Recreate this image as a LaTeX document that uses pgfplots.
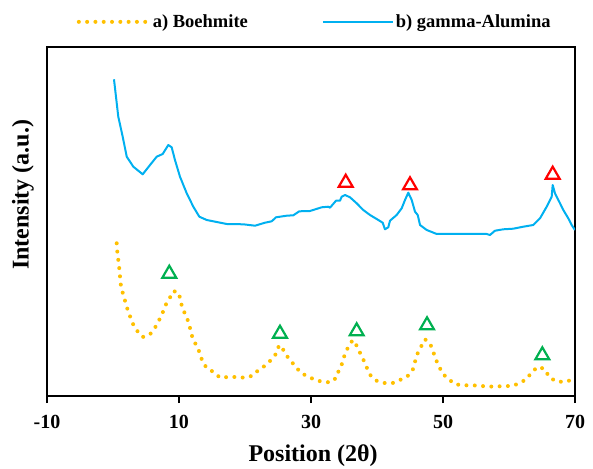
\documentclass[border=0pt]{standalone}
\usepackage{pgfplots}
\pgfplotsset{compat=1.18}
\usepackage{fontspec}
\setmainfont{Liberation Serif}
\definecolor{cblue}{HTML}{00B0F0}
\definecolor{corange}{HTML}{FFC000}
\definecolor{cgreen}{HTML}{00B050}
\definecolor{cred}{HTML}{FF0000}
\begin{document}
\begin{tikzpicture}
\begin{axis}[
  at={(0,0)}, anchor=south west,
  width=528pt, height=349pt, scale only axis,
  xmin=-10, xmax=70, ymin=0, ymax=349,
  xtick={-10,10,30,50,70},
  xticklabels={{-10},{10},{30},{50},{70}},
  ytick=\empty,
  xtick pos=bottom,
  tick align=outside,
  major tick length=7pt,
  tick style={line width=1.3pt, black},
  axis line style={line width=1.5pt, black},
  xticklabel style={font=\fontsize{20}{22}\selectfont\bfseries, yshift=-9pt},
  xlabel={Position (2θ)},
  ylabel={Intensity (a.u.)},
  xlabel style={font=\fontsize{24}{26}\selectfont\bfseries, at={(axis description cs:0.504,-0.172)}, anchor=center},
  ylabel style={font=\fontsize{24}{26}\selectfont\bfseries, at={(axis description cs:-0.0455,0.576)}, anchor=center},
  legend columns=2,
  legend style={draw=none, fill=none, font=\fontsize{18.5}{20}\selectfont\bfseries,
    at={(axis description cs:0.507,1.072)}, anchor=center,
    /tikz/every even column/.append style={column sep=72pt}},
  legend cell align=left,
  legend image code/.code={\draw[#1] (0pt,0pt) -- (70pt,0pt);},
]
\addplot[corange, line width=4pt, line cap=round, dash pattern=on 0pt off 8.3pt] coordinates {
(0.56,152.7)(0.65,144.3)(0.80,136)(0.95,127.7)(1.17,111.7)(1.47,103.3)(1.82,95.3)(2.17,87.3)(2.58,79.7)(3.03,72)(3.68,65)(4.50,59)(5.56,61.3)(6.32,67.7)(6.92,75)(7.47,82.3)(7.88,90)(8.53,97)(9.09,104.7)(9.80,104.3)(10.26,96.7)(10.45,88.3)(11.02,81)(11.47,73.3)(11.77,65.3)(12.08,57.3)(12.68,50)(13.18,42.7)(13.53,34.7)(14.20,28)(15.30,23.7)(16.21,18.3)(17.47,19)(18.74,19)(19.95,18.3)(21.17,20.3)(22.08,26.3)(23.14,30.7)(23.98,36.3)(24.80,43)(25.15,50.7)(25.56,49.3)(26.11,42)(26.86,35.7)(27.68,29.3)(28.44,23.3)(29.55,19.3)(30.71,16)(31.86,14)(33.03,13.7)(33.94,19)(34.24,26.7)(34.85,34)(35.11,42)(35.65,49)(36.32,56)(36.92,50.3)(37.42,43.3)(37.98,35.7)(38.48,28)(39.05,20.3)(40.00,15)(41.17,13)(42.38,13)(43.48,16)(44.65,20)(45.41,26)(45.76,34.3)(46.11,42)(46.67,49.3)(47.27,56.7)(48.03,52.7)(48.48,45)(48.89,37)(49.39,29.7)(49.95,22.3)(50.86,16.7)(51.86,11.7)(53.08,10.7)(54.35,10.7)(55.56,10.3)(56.77,9.3)(58.03,9.7)(59.29,9.7)(60.56,10.3)(61.71,13)(62.77,17.7)(63.48,24.3)(64.44,29.3)(65.45,26.7)(66.06,19)(67.12,14.7)(68.33,14)(69.50,16)
};
\addlegendentry{a) Boehmite}
\addplot[cblue, line width=2pt, line join=round] coordinates {
(0.15,316.7)(0.80,279.3)(1.47,259.3)(2.08,239.3)(3.08,229.3)(4.50,221.7)(5.61,231)(6.62,239.3)(7.53,242)(8.38,251)(8.89,248.7)(9.39,236)(10.15,219.3)(11.17,202.7)(12.17,189.3)(13.08,179.3)(14.20,176)(17.23,172)(19.74,171.7)(21.52,170.3)(23.03,173.3)(24.05,174.7)(24.70,178.7)(26.32,180.3)(27.32,180.7)(28.23,184.7)(29.85,185)(31.62,188.7)(32.62,189.3)(32.88,188.3)(33.79,195.3)(34.39,195.3)(34.65,199.3)(35.15,201)(35.91,198.7)(36.92,192.7)(37.92,186)(38.94,181)(40.20,176)(40.86,173.3)(41.21,166.7)(41.71,168.7)(41.97,175.3)(42.98,181)(43.74,187.7)(44.24,196)(44.74,203.3)(45.26,196)(45.76,184.3)(46.17,181)(46.52,171)(47.53,166)(49.05,162)(56.62,162)(57.12,161)(57.88,165.3)(59.14,166.7)(60.65,167.3)(62.17,169.3)(63.68,171)(64.70,177.7)(65.71,189.3)(66.47,199.3)(66.62,211)(66.97,202.7)(67.73,192.7)(68.23,186)(68.98,177.7)(69.50,171)(70.00,166)
};
\addlegendentry{b) gamma-Alumina}
\addplot[only marks, mark=triangle, mark size=8pt, cgreen, mark options={line width=2.2pt}, forget plot] coordinates {
(8.53,122.3)(25.30,62.3)(36.92,64.7)(47.58,70.7)(65.05,40.7)
};
\addplot[only marks, mark=triangle, mark size=8pt, cred, mark options={line width=2.2pt}, forget plot] coordinates {
(35.26,213.3)(45.00,210.7)(66.62,221.3)
};
\end{axis}
\pgfresetboundingbox
\path (-47pt,-72pt) rectangle (546pt,396pt);
\end{tikzpicture}
\end{document}
